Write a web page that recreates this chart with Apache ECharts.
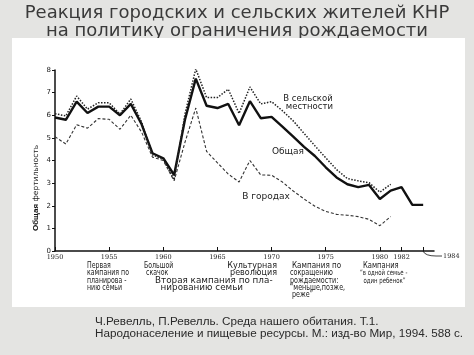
<!DOCTYPE html>
<html><head><meta charset="utf-8">
<script src="https://cdn.jsdelivr.net/npm/echarts@6/dist/echarts.min.js"></script>
<style>html,body{margin:0;padding:0;background:#e4e4e2;}#c{width:474px;height:355px;}</style>
</head><body><div id="c"></div>
<script>
const years = [1950,1951,1952,1953,1954,1955,1956,1957,1958,1959,1960,1961,1962,1963,1964,1965,1966,1967,1968,1969,1970,1971,1972,1973,1974,1975,1976,1977,1978,1979,1980,1981,1982,1983,1984];
const totalTFR = [5.90,5.80,6.60,6.10,6.38,6.38,6.00,6.50,5.60,4.32,4.10,3.36,5.80,7.62,6.42,6.32,6.50,5.56,6.62,5.87,5.93,5.50,5.05,4.60,4.20,3.70,3.25,2.95,2.82,2.92,2.30,2.67,2.82,2.04,2.04];
const ruralTFR = [6.07,5.97,6.85,6.27,6.55,6.55,6.05,6.72,5.70,4.25,4.05,3.15,6.05,8.05,6.78,6.78,7.15,6.08,7.25,6.50,6.60,6.20,5.75,5.20,4.65,4.12,3.60,3.20,3.10,3.02,2.60,2.95];
const urbanTFR = [5.05,4.73,5.58,5.43,5.85,5.82,5.38,6.00,5.25,4.15,4.00,3.10,4.80,6.32,4.40,3.90,3.40,3.05,4.00,3.36,3.35,3.05,2.65,2.30,1.98,1.75,1.62,1.58,1.52,1.40,1.12,1.52];
const xTickYears = [1950,1955,1960,1965,1970,1975,1980,1982,1983,1984];
const xLabelYears = [1950,1955,1960,1965,1970,1975,1980,1982,1983];

function pairs(vals){ return vals.map(function(v,i){ return [years[i], v]; }); }

const NOTE_FONT = 'DejaVu Sans';
function note(x, y, lines, size, sx, align){
  return {
    type:'text', x:x, y:y, scaleX:sx, z:10,
    style:{text:lines.join('\n'), fill:'#222', font:size+'px "'+NOTE_FONT+'"', textAlign:align||'left', textVerticalAlign:'top', lineHeight:7.4}
  };
}

const chart = echarts.init(document.getElementById('c'), null, {renderer:'canvas'});
const option = {
  backgroundColor:'#e4e4e2',
  animation:false,
  title:{
    text:'Реакция городских и сельских жителей КНР\nна политику ограничения рождаемости',
    left:'center', top:-1, z:0,
    textStyle:{fontSize:18, fontWeight:'normal', color:'#3a3a3a', fontFamily:'DejaVu Sans', lineHeight:18.5}
  },
  grid:{left:55, top:70, width:379, height:181},
  xAxis:{
    type:'value', min:1950, max:1985, z:5,
    axisLine:{lineStyle:{color:'#111', width:1.5}},
    axisTick:{customValues:xTickYears, inside:true, length:4, lineStyle:{color:'#111', width:1}},
    axisLabel:{customValues:xLabelYears, formatter:function(v){ return String(v); }, fontSize:6.5, fontFamily:'DejaVu Serif', color:'#222', margin:3},
    splitLine:{show:false}
  },
  yAxis:{
    type:'value', min:0, max:8, interval:1, z:5,
    axisLine:{show:true, lineStyle:{color:'#111', width:1.5}},
    axisTick:{show:true, length:3, lineStyle:{color:'#111'}},
    axisLabel:{fontSize:7, color:'#222', margin:4, fontFamily:'DejaVu Sans'},
    splitLine:{show:false}
  },
  series:[
    {name:'Общая', type:'line', z:5, data:pairs(totalTFR), symbol:'none', lineStyle:{color:'#111', width:2.4}},
    {name:'В сельской местности', type:'line', z:5, data:pairs(ruralTFR), symbol:'none', lineStyle:{color:'#222', width:1.5, type:[1.5,1.5]}},
    {name:'В городах', type:'line', z:5, data:pairs(urbanTFR), symbol:'none', lineStyle:{color:'#333', width:1.1, type:[3,2]}}
  ],
  graphic:{elements:[
    {type:'rect', z:1, shape:{x:12, y:38, width:453, height:269}, style:{fill:'#ffffff'}},
    {type:'text', z:10, x:36, y:188, rotation:Math.PI/2,
      style:{text:'{b|Общая} фертильность', textAlign:'center', textVerticalAlign:'middle', fill:'#222', font:'7.5px "DejaVu Sans"',
        rich:{b:{fontWeight:'bold', fontSize:8, fill:'#111'}}}},
    {type:'text', z:10, x:308, y:95, style:{text:'В сельской\n местности', textAlign:'center', textVerticalAlign:'top', fill:'#222', font:'8.5px "DejaVu Sans"', lineHeight:8}},
    {type:'text', z:10, x:288, y:152, style:{text:'Общая', textAlign:'center', textVerticalAlign:'middle', fill:'#222', font:'9px "DejaVu Sans"'}},
    {type:'text', z:10, x:266, y:197, style:{text:'В городах', textAlign:'center', textVerticalAlign:'middle', fill:'#222', font:'9px "DejaVu Sans"'}},
    {type:'bezierCurve', z:10, shape:{x1:423, y1:251, x2:436, y2:256, cpx1:425, cpy1:256}, style:{stroke:'#111', lineWidth:0.8, fill:null}},
    {type:'line', z:10, shape:{x1:436, y1:256, x2:442, y2:256}, style:{stroke:'#111', lineWidth:0.8}},
    {type:'text', z:10, x:443, y:256, style:{text:'1984', textAlign:'left', textVerticalAlign:'middle', fill:'#222', font:'6.5px "DejaVu Serif"'}},
    note(87, 262, ['Первая','кампания по','планирова -','нию семьи'], 8, 0.78),
    note(144, 262, ['Большой',' скачок'], 8, 0.78),
    note(155, 277, ['Вторая кампания по пла-','  нированию семьи'], 8, 1.1),
    note(277, 262, ['Культурная','революция'], 8, 1.0, 'right'),
    note(292, 262, ['Кампания по'], 8, 0.9),
    note(290, 269.5, ['сокращению','рождаемости:','“меньше,позже,',' реже”'], 8, 0.8),
    note(363, 262, ['Кампания'], 8, 0.85),
    note(360, 269.5, ['“в одной семье -','  один ребенок”'], 7.5, 0.72),
    {type:'text', z:10, x:95, y:322, style:{text:'Ч.Ревелль, П.Ревелль. Среда нашего обитания. Т.1.', textAlign:'left', textVerticalAlign:'middle', fill:'#2a2a2a', font:'11.7px "Liberation Sans"'}},
    {type:'text', z:10, x:95, y:334, style:{text:'Народонаселение и пищевые ресурсы. М.: изд-во Мир, 1994. 588 с.', textAlign:'left', textVerticalAlign:'middle', fill:'#2a2a2a', font:'11.7px "Liberation Sans"'}}
  ]}
};
chart.setOption(option);
</script></body></html>
